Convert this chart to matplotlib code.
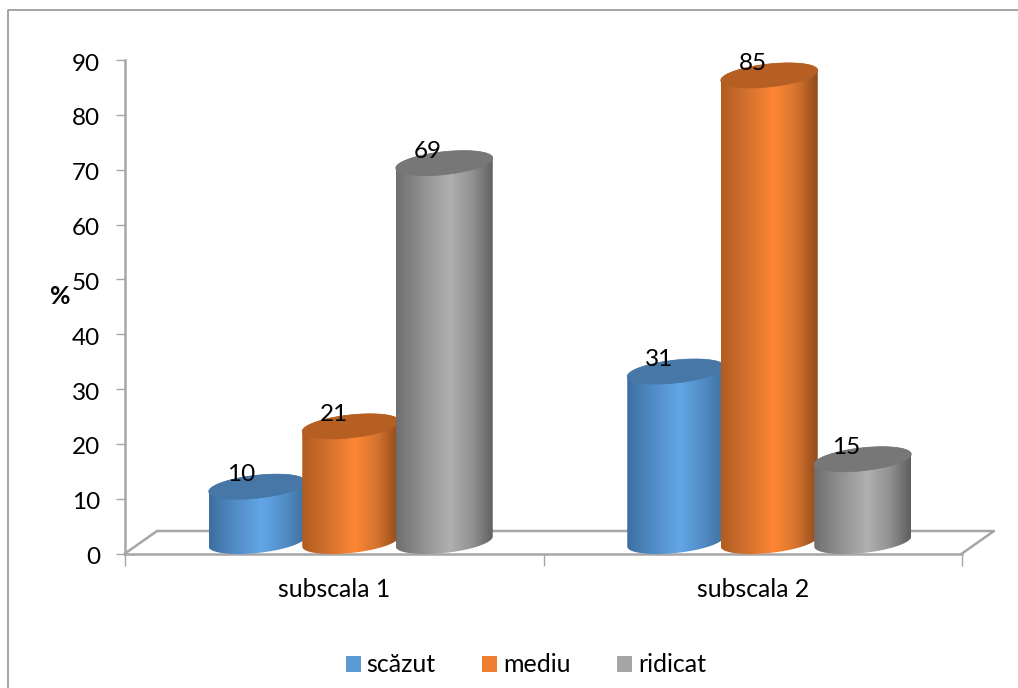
import numpy as np
import matplotlib
matplotlib.use("Agg")
import matplotlib.pyplot as plt
from matplotlib.colors import LinearSegmentedColormap
from matplotlib.lines import Line2D
from matplotlib.patches import Patch, Polygon
from matplotlib.transforms import ScaledTranslation

categories = ["subscala 1", "subscala 2"]
series_names = ["scăzut", "mediu", "ridicat"]
scazut = [10, 31]
mediu = [21, 85]
ridicat = [69, 15]
y_ticks = list(range(0, 100, 10))

W, H = 1018, 688
AX_L, AX_R, AX_TOP, AX_BOTTOM = 125, 962, 60, 553.5
GRAY = "#a6a6a6"
FONT = "Lato"
FS = 17.5

# Side shading (dark edge, lit middle, dark edge), cap colour and legend swatch per series
STYLES = [
    dict(stops=["#3d6f9f", "#4f8ac4", "#62a6e6", "#518dc6", "#3f719f"], cap="#4677a6", swatch="#5b9bd5"),
    dict(stops=["#b25c20", "#d0702d", "#ff8635", "#d5732e", "#8f4a1a"], cap="#b55f23", swatch="#ed7d31"),
    dict(stops=["#6f6f6f", "#8e8e8e", "#b0b0b0", "#929292", "#5e5e5e"], cap="#777777", swatch="#a5a5a5"),
]

fig = plt.figure(figsize=(W / 100, H / 100), dpi=100, facecolor="white")
ax = fig.add_axes([AX_L / W, 1 - AX_BOTTOM / H, (AX_R - AX_L) / W, (AX_BOTTOM - AX_TOP) / H])
ax.patch.set_visible(False)

# Chart area frame: left and top edges only, the others run off the canvas
fig.add_artist(Line2D([7.7 / W, 7.7 / W, 1], [0, 1 - 9.7 / H, 1 - 9.7 / H],
                      transform=fig.transFigure, color="#8c8c8c", lw=1.1))

px_x = (AX_R - AX_L) / 2          # pixels per category unit
px_y = (AX_BOTTOM - AX_TOP) / 90  # pixels per percent

depth_x, depth_y = 32 / px_x, 22.5 / px_y
half_w = 48.5 / px_x
step = 93.5 / px_x
tilt = 5 / px_y
minor = 11.5 / px_y
base = 12 / px_y


def rim(cx, cy, t):
    x = cx + half_w * np.cos(t)
    y = cy + tilt * np.cos(t) + minor * np.sin(t)
    return np.column_stack([x, y])


def cylinder(cx, value, style, z):
    top = base + value
    lower = rim(cx, base, np.linspace(np.pi, 2 * np.pi, 80))
    upper = rim(cx, top, np.linspace(0, np.pi, 80))
    side = Polygon(np.vstack([lower, upper]), closed=True, transform=ax.transData, fc="none", ec="none")
    ax.add_patch(side)
    cmap = LinearSegmentedColormap.from_list("side", list(zip([0, .25, .55, .78, 1], style["stops"])))
    im = ax.imshow(np.linspace(0, 1, 256)[None, :], cmap=cmap, aspect="auto", zorder=z,
                   extent=[cx - half_w, cx + half_w, -5, 95], interpolation="bilinear")
    im.set_clip_box(None)
    im.set_clip_path(side)
    cap = Polygon(rim(cx, top, np.linspace(0, 2 * np.pi, 160)), closed=True, fc=style["cap"],
                  ec=style["cap"], lw=0.5, zorder=z + 0.1, clip_on=False)
    ax.add_patch(cap)
    return top


# Floor of the plot: back edge and the receding sides
ax.plot([0, depth_x, 2 + depth_x, 2], [0, depth_y, depth_y, 0], color=GRAY, lw=1.8, clip_on=False, zorder=1)

for i, values in enumerate(zip(scazut, mediu, ridicat)):
    centre = i + 0.5 + 16.5 / px_x
    for j, value in enumerate(values):
        cx = centre + (j - 1) * step
        top = cylinder(cx, value, STYLES[j], 2 + 2 * i + j * 0.3)
        ax.text(cx - 30.5 / px_x, top + 12 / px_y, str(value), ha="left", va="center", fontsize=FS,
                family=FONT, color="black", zorder=10)

ax.set_xlim(0, 2)
ax.set_ylim(0, 90)
ax.set_yticks(y_ticks)
ax.set_xticks([0, 1, 2])
ax.set_xticklabels([])
ax.set_xticks([0.5, 1.5], minor=True)
ax.set_xticklabels(categories, minor=True, fontsize=17.8, family=FONT)
ax.tick_params(axis="x", which="minor", length=0, pad=17.5)
ax.tick_params(axis="x", which="major", length=8.5, width=1, color=GRAY)
ax.tick_params(axis="y", length=6.5, width=1, color=GRAY, labelsize=FS, pad=11.5)
# Nudge the value labels slightly below their tick marks
nudge = ScaledTranslation(0, -1.5 / 72, fig.dpi_scale_trans)
for label in ax.get_yticklabels():
    label.set_family(FONT)
    label.set_transform(label.get_transform() + nudge)
for name in ("top", "right"):
    ax.spines[name].set_visible(False)
for name in ("left", "bottom"):
    ax.spines[name].set_color(GRAY)
    ax.spines[name].set_linewidth(1.8)
    ax.spines[name].set_zorder(1)

fig.text(60 / W, 1 - 297 / H, "%", fontsize=18, fontweight="bold", family=FONT, ha="center", va="center")

handles = [Patch(fc=s["swatch"], ec="none") for s in STYLES]
fig.legend(handles, series_names, ncol=3, loc="center", bbox_to_anchor=(526 / W, 1 - 665 / H), frameon=False,
           prop=dict(family=FONT, size=18), handlelength=0.6, handleheight=0.6,
           handletextpad=0.24, columnspacing=1.86, borderpad=0, borderaxespad=0)

fig.savefig("out.png", dpi=100)
